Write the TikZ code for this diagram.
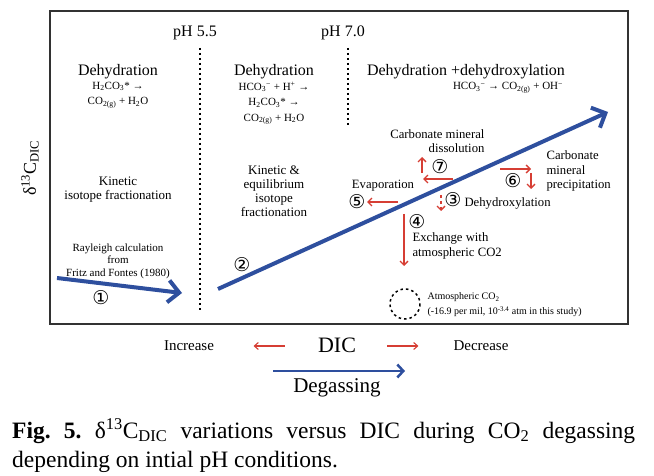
\documentclass[tikz,border=0pt]{standalone}
\usepackage{fontspec}
\setmainfont{Liberation Serif}
\newfontfamily\circfont{DejaVu Sans}
\usepackage{tikz}
\usetikzlibrary{positioning,arrows.meta,calc}
\definecolor{degblue}{RGB}{46,79,158}
\definecolor{procred}{RGB}{214,62,52}
\definecolor{framegray}{RGB}{50,50,50}
\newcommand{\fs}[2]{\fontsize{#1}{#2}\selectfont}
\newcommand{\chsub}[1]{\textsubscript{#1}}
\newcommand{\chsup}[1]{\textsuperscript{#1}}
\tikzset{
  phlabel/.style={font=\fs{16}{18}},
  head/.style={font=\fs{16}{18}},
  chem/.style={font=\fs{11}{15.5}, align=center},
  note/.style={font=\fs{13}{14}, align=center},
  ray/.style={font=\fs{11}{12.5}, align=center},
  proc/.style={font=\fs{12.7}{14.5}},
  atm/.style={font=\fs{10}{15}, align=left},
  num/.style={font=\circfont\fs{19}{19}, inner sep=0pt},
  phline/.style={line width=1.6pt, dash pattern=on 2pt off 3pt},
  trend/.style={degblue, line width=4pt, -{Straight Barb[length=11pt,width=22pt]}},
  procarrow/.style={procred, line width=1.4pt, -{Straight Barb[length=4pt,width=8pt]}},
  dicarrow/.style={procred, line width=1.1pt, -{Straight Barb[length=4pt,width=7pt]}}
}
\begin{document}
\frenchspacing
\begin{tikzpicture}[x=1pt,y=-1pt]
    \useasboundingbox (0,0) rectangle (654,476);
    \draw[framegray, line width=1.6pt] (50,11) rectangle (628,324);

    \node[rotate=90, font=\fs{18}{20}] (ylab) at (30,168) {δ\chsup{13}C\chsub{DIC}};

    \node[phlabel] (ph55) at (195,33) {pH 5.5};
    \node[phlabel] (ph70) at (343,33) {pH 7.0};
    \coordinate (d1a) at (200,48); \coordinate (d1b) at (200,312);
    \coordinate (d2a) at (348,48); \coordinate (d2b) at (348,127);
    \draw[phline] (d1a) -- (d1b);
    \draw[phline] (d2a) -- (d2b);

    \node[head] (deh1) at (118,72) {Dehydration};
    \node[chem] (eq1) at (118,95) {H\chsub{2}CO\chsub{3}* →\\CO\chsub{2(g)} + H\chsub{2}O};
    \node[head] (deh2) at (274,72) {Dehydration};
    \node[chem] (eq2) at (274,103) {HCO\chsub{3}\chsup{−} + H\chsup{+} →\\H\chsub{2}CO\chsub{3}* →\\CO\chsub{2(g)} + H\chsub{2}O};
    \node[head] (deh3) at (466,72) {Dehydration +dehydroxylation};
    \node[chem] (eq3) at (508,88) {HCO\chsub{3}\chsup{−} → CO\chsub{2(g)} + OH\chsup{−}};

    \node[note] (kin1) at (118,190) {Kinetic\\isotope fractionation};
    \node[note] (kin2) at (274,191) {Kinetic \&\\equilibrium\\isotope\\fractionation};
    \node[ray] (rayl) at (118,261) {Rayleigh calculation\\from\\Fritz and Fontes (1980)};

    \coordinate (r1s) at (57,278); \coordinate (r1e) at (182,293);
    \coordinate (r2s) at (218,289); \coordinate (r2e) at (608,112);
    \draw[trend] (r1s) -- (r1e);
    \draw[trend] (r2s) -- (r2e);
    \node[num] (n1) at (101,298) {①};
    \node[num] (n2) at (242,265) {②};

    \node[proc, align=right, anchor=east] (diss) at (488,141) {Carbonate mineral\\dissolution};
    \coordinate (a7s) at (453,179); \coordinate (a7e) at (423,179);
    \coordinate (u7s) at (422,173); \coordinate (u7e) at (422,157);
    \draw[procarrow] (a7s) -- (a7e);
    \draw[procarrow] (u7s) -- (u7e);
    \node[num] (n7) at (440,167) {⑦};

    \node[proc] (evap) at (383,186) {Evaporation};
    \coordinate (a5s) at (398,202); \coordinate (a5e) at (367,202);
    \draw[procarrow] (a5s) -- (a5e);
    \node[num] (n5) at (357,202) {⑤};

    \coordinate (a3s) at (441,195); \coordinate (a3e) at (441,211);
    \draw[procarrow, dashed] (a3s) -- (a3e);
    \node[num] (n3) at (453,200) {③};
    \node[proc, anchor=west] (dehx) at (461,203) {Dehydroxylation};

    \coordinate (a4s) at (404,214); \coordinate (a4e) at (404,266);
    \draw[procarrow] (a4s) -- (a4e);
    \node[num] (n4) at (417,222) {④};
    \node[proc, align=left, anchor=west] (exch) at (409,246) {Exchange with\\atmospheric CO2};

    \coordinate (a6s) at (500,169); \coordinate (a6e) at (531,169);
    \coordinate (d6s) at (531,173); \coordinate (d6e) at (531,189);
    \draw[procarrow] (a6s) -- (a6e);
    \draw[procarrow] (d6s) -- (d6e);
    \node[num] (n6) at (513,181) {⑥};
    \node[proc, align=left, anchor=west] (prec) at (543,171) {Carbonate\\mineral\\precipitation};

    \draw[line width=1.5pt, dash pattern=on 2.5pt off 3pt] (405,304) circle (15);
    \node[atm, anchor=west] (atmco) at (424,305) {Atmospheric CO\chsub{2}\\(-16.9 per mil, 10\chsup{-3.4} atm in this study)};

    \node[font=\fs{15}{17}] (incr) at (189,346) {Increase};
    \node[font=\fs{22}{24}] (dic) at (337,345) {DIC};
    \node[font=\fs{15}{17}] (decr) at (481,346) {Decrease};
    \draw[dicarrow] (dic.west) ++(-30,1) coordinate (l1s) -- ++(-31,0) coordinate (l1e);
    \draw[dicarrow] (dic.east) ++(28,1) coordinate (l2s) -- ++(31,0) coordinate (l2e);
    \coordinate (dgs) at (273,371); \coordinate (dge) at (405,371);
    \draw[degblue, line width=2.5pt, -{Straight Barb[length=6pt,width=13pt]}] (dgs) -- (dge);
    \node[font=\fs{21}{23}] (degas) at (337,388) {Degassing};

    \node[anchor=north west, text width=623pt, align=justify, inner sep=0pt, font=\fs{23.5}{29.5}] (caption) at (12,418)
      {\textbf{Fig. 5.} δ\chsup{13}C\chsub{DIC} variations versus DIC during CO\chsub{2} degassing\linebreak depending on intial pH conditions.};
\end{tikzpicture}
\end{document}
